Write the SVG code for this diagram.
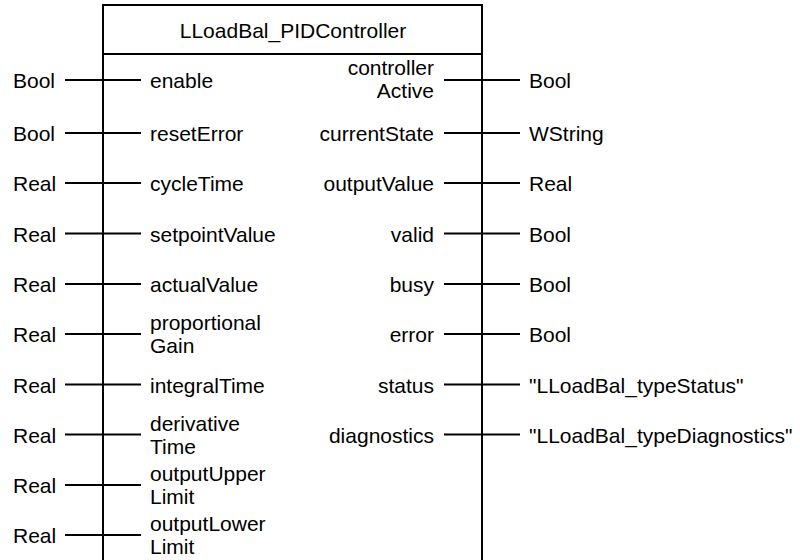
<svg xmlns="http://www.w3.org/2000/svg" width="800" height="560" viewBox="0 0 800 560">
  <style>
    text { font-family: "Liberation Sans", Arial, sans-serif; font-size: 21px; fill: #000; }
    .end { text-anchor: end; }
    .mid { text-anchor: middle; }
    .wire { stroke: #000; stroke-width: 2; fill: none; }
    .frame { stroke: #000; stroke-width: 2; fill: #fff; }
  </style>
  <rect width="800" height="560" fill="#fff"/>

  <!-- function block body -->
  <g id="block">
    <path class="frame" d="M103,570 V5 H482 V570"/>
    <line class="wire" x1="103" y1="54" x2="482" y2="54"/>
    <text class="mid" x="293" y="38">LLoadBal_PIDController</text>
  </g>

  <!-- pin wires -->
  <g id="connectors">
    <line class="wire" x1="65" y1="80" x2="141" y2="80"/>
    <line class="wire" x1="65" y1="133" x2="141" y2="133"/>
    <line class="wire" x1="65" y1="183" x2="141" y2="183"/>
    <line class="wire" x1="65" y1="233.5" x2="141" y2="233.5"/>
    <line class="wire" x1="65" y1="284" x2="141" y2="284"/>
    <line class="wire" x1="65" y1="334" x2="141" y2="334"/>
    <line class="wire" x1="65" y1="384.5" x2="141" y2="384.5"/>
    <line class="wire" x1="65" y1="434.5" x2="141" y2="434.5"/>
    <line class="wire" x1="65" y1="485" x2="141" y2="485"/>
    <line class="wire" x1="65" y1="535" x2="141" y2="535"/>

    <line class="wire" x1="444" y1="80" x2="520" y2="80"/>
    <line class="wire" x1="444" y1="133" x2="520" y2="133"/>
    <line class="wire" x1="444" y1="183" x2="520" y2="183"/>
    <line class="wire" x1="444" y1="233.5" x2="520" y2="233.5"/>
    <line class="wire" x1="444" y1="284" x2="520" y2="284"/>
    <line class="wire" x1="444" y1="334" x2="520" y2="334"/>
    <line class="wire" x1="444" y1="384.5" x2="520" y2="384.5"/>
    <line class="wire" x1="444" y1="434.5" x2="520" y2="434.5"/>
  </g>

  <!-- inputs -->
  <g id="in-enable"><text x="13" y="88">Bool</text><text x="150" y="88">enable</text></g>
  <g id="in-resetError"><text x="13" y="141">Bool</text><text x="150" y="141">resetError</text></g>
  <g id="in-cycleTime"><text x="13" y="191">Real</text><text x="150" y="191">cycleTime</text></g>
  <g id="in-setpointValue"><text x="13" y="241.5">Real</text><text x="150" y="241.5">setpointValue</text></g>
  <g id="in-actualValue"><text x="13" y="292">Real</text><text x="150" y="292">actualValue</text></g>
  <g id="in-proportionalGain"><text x="13" y="342">Real</text><text x="150" y="330">proportional</text><text x="150" y="353">Gain</text></g>
  <g id="in-integralTime"><text x="13" y="392.5">Real</text><text x="150" y="392.5">integralTime</text></g>
  <g id="in-derivativeTime"><text x="13" y="442.5">Real</text><text x="150" y="430.5">derivative</text><text x="150" y="453.5">Time</text></g>
  <g id="in-outputUpperLimit"><text x="13" y="493">Real</text><text x="150" y="481">outputUpper</text><text x="150" y="504">Limit</text></g>
  <g id="in-outputLowerLimit"><text x="13" y="543">Real</text><text x="150" y="531">outputLower</text><text x="150" y="554">Limit</text></g>

  <!-- outputs -->
  <g id="out-controllerActive"><text class="end" x="434" y="75">controller</text><text class="end" x="434" y="98">Active</text><text x="529" y="88">Bool</text></g>
  <g id="out-currentState"><text class="end" x="434" y="141">currentState</text><text x="529" y="141">WString</text></g>
  <g id="out-outputValue"><text class="end" x="434" y="191">outputValue</text><text x="529" y="191">Real</text></g>
  <g id="out-valid"><text class="end" x="434" y="241.5">valid</text><text x="529" y="241.5">Bool</text></g>
  <g id="out-busy"><text class="end" x="434" y="292">busy</text><text x="529" y="292">Bool</text></g>
  <g id="out-error"><text class="end" x="434" y="342">error</text><text x="529" y="342">Bool</text></g>
  <g id="out-status"><text class="end" x="434" y="392.5">status</text><text x="529" y="392.5">"LLoadBal_typeStatus"</text></g>
  <g id="out-diagnostics"><text class="end" x="434" y="442.5">diagnostics</text><text x="529" y="442.5">"LLoadBal_typeDiagnostics"</text></g>
</svg>
